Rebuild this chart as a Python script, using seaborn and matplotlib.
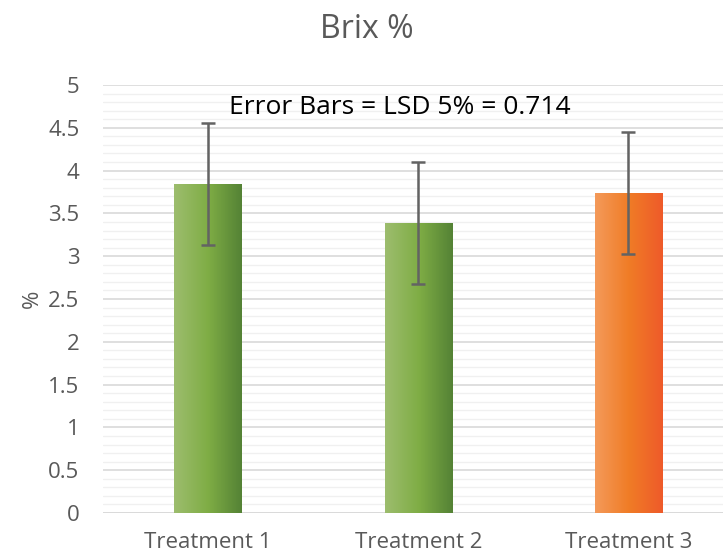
import numpy as np
import pandas as pd
import matplotlib
matplotlib.use("Agg")
import matplotlib.pyplot as plt
import seaborn as sns
from matplotlib.colors import LinearSegmentedColormap
from matplotlib.ticker import MultipleLocator

categories = ["Treatment 1", "Treatment 2", "Treatment 3"]
values = [3.84, 3.39, 3.74]
lsd = 0.714
ytick_labels = ["0", "0.5", "1", "1.5", "2", "2.5", "3", "3.5", "4", "4.5", "5"]
grad_left = ["#9dbd6e", "#9dbd6e", "#f49a5a"]
grad_mid = ["#7fad45", "#7fad45", "#f07c26"]
grad_right = ["#548235", "#548235", "#ee5a2a"]

sns.set_theme(style="white")
plt.rcParams['font.family'] = ['Open Sans', 'DejaVu Sans']

df = pd.DataFrame({"cat": categories, "val": values})

fig = plt.figure(figsize=(7.23, 5.56), dpi=100)
ax = fig.add_axes([103/723, (556-513)/556, 620/723, (513-85)/556])

sns.barplot(data=df, x="cat", y="val", ax=ax, width=0.32, color="#7fad45",
            errorbar=None, zorder=3)

ax.set_xlim(-0.5, 2.45)
ax.set_ylim(0, 5)

# gradient fills
for i, p in enumerate(ax.patches):
    x0, y0 = p.get_x(), p.get_y()
    w, h = p.get_width(), p.get_height()
    cmap = LinearSegmentedColormap.from_list("g", [grad_left[i], grad_mid[i], grad_right[i]])
    grad = np.linspace(0, 1, 256).reshape(1, -1)
    im = ax.imshow(grad, extent=[x0, x0 + w, y0, y0 + h], aspect="auto",
                   cmap=cmap, zorder=3.5)
    im.set_clip_path(p)
    p.set_facecolor("none")
    p.set_edgecolor("none")

ax.errorbar(range(len(values)), values, yerr=lsd, fmt="none", ecolor="#636363",
            elinewidth=1.8, capsize=4.8, capthick=1.8, zorder=5)

ax.set_aspect("auto")
ax.yaxis.set_major_locator(MultipleLocator(0.5))
ax.yaxis.set_minor_locator(MultipleLocator(0.1))
ax.grid(which="major", axis="y", color="#d9d9d9", linewidth=1.2, zorder=0)
ax.grid(which="minor", axis="y", color="#f0f0f0", linewidth=1.0, zorder=0)
ax.set_axisbelow(True)
for s in ax.spines.values():
    s.set_visible(False)
ax.axhline(0, color="#d9d9d9", linewidth=1.2, zorder=1)

ax.tick_params(axis="both", which="both", length=0, labelsize=16, labelcolor="#595959")
ax.tick_params(axis="y", pad=17)
ax.tick_params(axis="x", pad=14)
ax.set_yticks(np.arange(0, 5.01, 0.5))
ax.set_yticklabels(ytick_labels)
ax.set_xlabel("")
ax.set_ylabel("%", fontsize=16, color="#595959", labelpad=4)

fig.text(367/723, 1 - 30/556, "Brix %", ha="center", va="center", fontsize=23, color="#595959")
fig.text(400/723, 1 - 107/556, "Error Bars = LSD 5% = 0.714", ha="center", va="center",
         fontsize=19, color="#000000")

fig.savefig("out.png", dpi=100)
